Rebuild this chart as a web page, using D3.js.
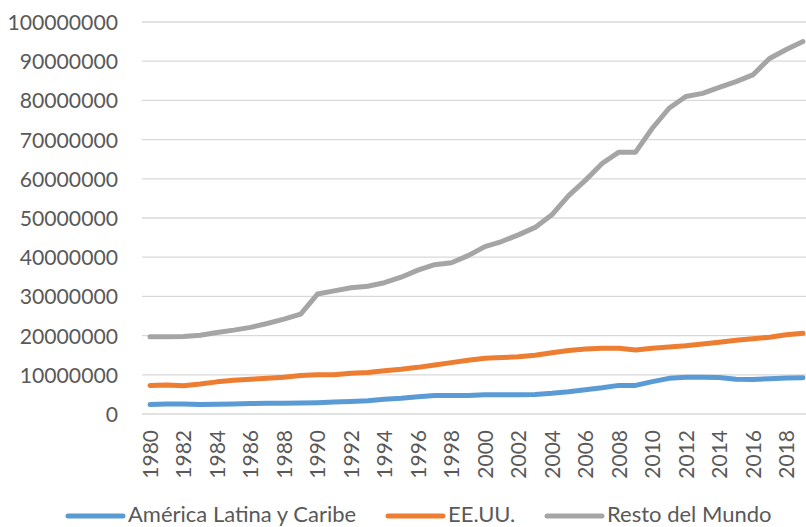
<!DOCTYPE html>
<html><head><meta charset="utf-8">
<script src="https://cdn.jsdelivr.net/npm/d3@7"></script>
<style>body{margin:0;background:#fff}svg{display:block}text{font-family:Lato,"Open Sans",sans-serif;fill:#595959}</style>
</head><body>
<svg id="c" width="806" height="527"></svg>
<script>
const years = d3.range(1980, 2020);
const seriesNames = ["América Latina y Caribe", "EE.UU.", "Resto del Mundo"];
const latam = [2.4,2.55,2.55,2.4,2.5,2.55,2.65,2.75,2.75,2.8,2.9,3.06,3.2,3.4,3.74,4.0,4.4,4.7,4.7,4.75,4.9,4.9,4.9,5.0,5.3,5.7,6.2,6.7,7.3,7.3,8.25,9.1,9.35,9.35,9.3,8.85,8.8,9.0,9.2,9.25].map(v=>v*1e6);
const usa = [7.3,7.4,7.2,7.65,8.2,8.6,8.85,9.1,9.4,9.8,10.0,10.0,10.4,10.6,11.05,11.4,11.9,12.5,13.1,13.7,14.2,14.4,14.6,15.0,15.6,16.2,16.6,16.8,16.8,16.3,16.8,17.1,17.4,17.85,18.3,18.8,19.2,19.6,20.2,20.6].map(v=>v*1e6);
const rest = [19.7,19.7,19.75,20.1,20.8,21.4,22.1,23.1,24.2,25.5,30.6,31.4,32.2,32.6,33.5,34.9,36.7,38.1,38.6,40.4,42.7,44.0,45.7,47.6,50.8,55.7,59.6,63.9,66.8,66.8,72.9,78.0,81.0,81.8,83.3,84.8,86.5,90.7,93.0,95.0].map(v=>v*1e6);
const yTicks = d3.range(0, 100000001, 10000000);
const xTicks = d3.range(1980, 2020, 2);
const colors = ["#5B9BD5", "#ED7D31", "#A5A5A5"];

const svg = d3.select("#c");
const x = d3.scalePoint().domain(years).range([150, 803]);
const y = d3.scaleLinear().domain([0, 100000000]).range([414, 22]);

// gridlines
svg.append("g").selectAll("line").data(yTicks).join("line")
  .attr("x1", 142).attr("x2", 806)
  .attr("y1", d=>y(d)).attr("y2", d=>y(d))
  .attr("stroke", "#d9d9d9").attr("stroke-width", 1.3);

// y axis labels
const yAxis = d3.axisLeft(y).tickValues(yTicks).tickFormat(d3.format("d")).tickSize(0).tickPadding(0);
const gy = svg.append("g").attr("transform", "translate(118,0)").call(yAxis);
gy.select(".domain").remove();
gy.selectAll("text").attr("font-size", 21.2).style("font-family", "Lato").attr("fill", "#595959").attr("dy", "0.35em");

// x axis labels
const xAxis = d3.axisBottom(x).tickValues(xTicks).tickSize(0).tickPadding(0);
const gx = svg.append("g").attr("transform", "translate(0,430)").call(xAxis);
gx.select(".domain").remove();
gx.selectAll("text").attr("font-size", 21).style("font-family", "Lato").attr("fill", "#595959")
  .attr("text-anchor", "end").attr("transform", "rotate(-90)").attr("x", 0).attr("y", 0).attr("dy", "0.35em");

// lines
const data = [latam, usa, rest];
const line = d3.line().x((d,i)=>x(years[i])).y(d=>y(d));
svg.append("g").selectAll("path").data(data).join("path")
  .attr("d", line).attr("fill", "none")
  .attr("stroke", (d,i)=>colors[i]).attr("stroke-width", 5)
  .attr("stroke-linejoin", "round").attr("stroke-linecap", "round");

// legend
const legendX = [68, 388, 547];
const lg = svg.append("g").selectAll("g").data(seriesNames).join("g")
  .attr("transform", (d,i)=>`translate(${legendX[i]},514)`);
lg.append("line").attr("x1", 0).attr("x2", 55).attr("y1", 2).attr("y2", 2)
  .attr("stroke", (d,i)=>colors[i]).attr("stroke-width", 5).attr("stroke-linecap", "round");
lg.append("text").attr("x", 60).attr("y", 0).attr("dy", "0.35em").attr("font-size", 22).text(d=>d);
</script>
</body></html>
